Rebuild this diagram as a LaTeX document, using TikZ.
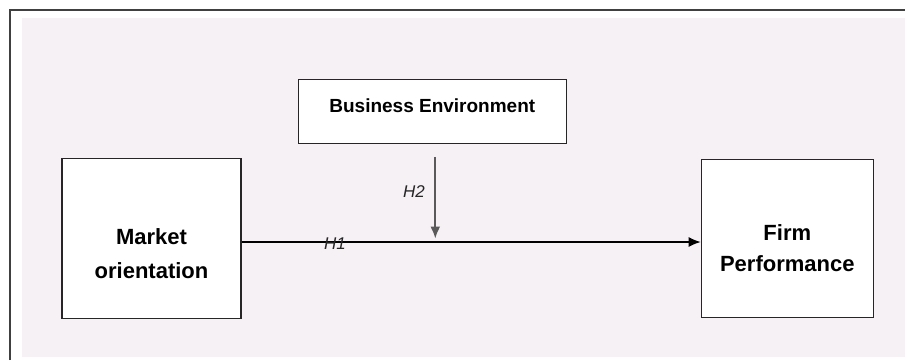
\documentclass[tikz,border=0pt]{standalone}
\usepackage{fontspec}
\setmainfont{Liberation Sans}
\usetikzlibrary{arrows.meta, positioning}

\definecolor{panelbg}{RGB}{246,241,245}
\definecolor{framegray}{RGB}{64,64,64}
\definecolor{modgray}{RGB}{90,90,90}

\begin{document}
\begin{tikzpicture}[
    x=1pt, y=-1pt,
    >={Latex[length=12pt,width=10pt]},
    construct/.style={rectangle, draw=black!85, line width=1.3pt, fill=white, align=center, font=\bfseries\fontsize{22}{34}\selectfont},
    moderator/.style={rectangle, draw=black!85, line width=1.3pt, fill=white, minimum width=268pt, minimum height=64pt, font=\bfseries\fontsize{19}{23}\selectfont, text height=18pt, text depth=16.4pt},
    line/.style={draw, ->, line width=1.3pt},
    modline/.style={draw, ->, modgray, line width=1.8pt},
    hyp/.style={font=\itshape\fontsize{17}{20}\selectfont, text=black!85, inner sep=0pt}
]
    % frame and shaded panel
    \useasboundingbox (0,0) rectangle (905,360);
    \fill[panelbg] (22,18) rectangle (905,357);
    \draw[framegray, line width=1.3pt] (10,360) |- (905,10);

    % constructs
    \node[construct, minimum width=179pt, minimum height=160pt, text height=80pt, text depth=0pt] (market) at (151.5,238.5) {Market\\orientation};
    \node[construct, minimum width=172pt, minimum height=158pt, font=\bfseries\fontsize{22}{31}\selectfont, text height=66pt, text depth=0pt, right=459pt of market] (firm) {Firm\\Performance};
    \node[moderator, above right=14pt and 56pt of market] (environment) {Business Environment};

    % hypotheses
    \coordinate (h1mid) at (environment.south |- market.east);
    \path[line] ([yshift=-3.5pt]market.east) -- ([yshift=-3.5pt]firm.west);
    \path[modline] ([xshift=3pt,yshift=-13pt]environment.south) -- ([xshift=3pt]h1mid);

    \node[hyp] (h2) at (414,192) {H2};
    \node[hyp] (h1) at (335,244) {H1};
\end{tikzpicture}
\end{document}
